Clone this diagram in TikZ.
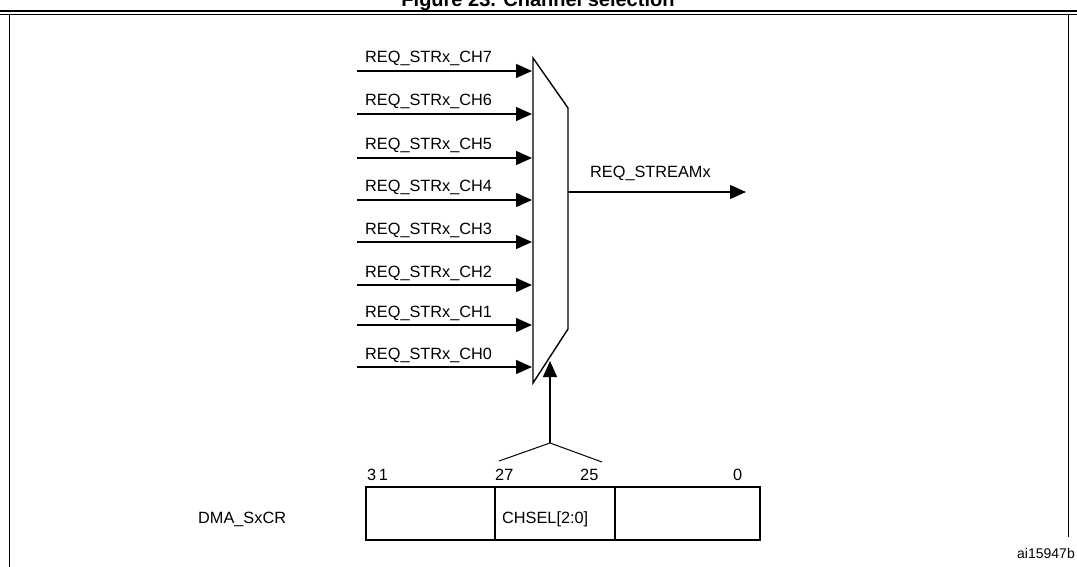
\documentclass[tikz,border=0pt]{standalone}
\usepackage{fontspec}
\usetikzlibrary{arrows.meta}
\setmainfont{Liberation Sans}
\begin{document}
\begin{tikzpicture}[x=1pt,y=-1pt,
  ln/.style={line width=1.4pt},
  arr/.style={line width=1.4pt,-{Triangle[length=16pt,width=14pt]}},
  lab/.style={font=\fontsize{16.3}{18}\selectfont,inner sep=0pt,anchor=base west}]
\useasboundingbox (0,0) rectangle (1077,567);
\begin{scope}
\clip (0,0) rectangle (1077,567);
\node[font=\bfseries\fontsize{20}{22}\selectfont,inner sep=0pt,anchor=base] (title) at (538,7) {Figure 23. Channel selection};
\end{scope}
\draw[line width=1.2pt] (0,11) -- (1077,11);
\draw[line width=0.8pt] (0,14) -- (1077,14);
\draw[line width=1pt] (9,14) -- (9,567);
\draw[line width=1pt] (1068,14) -- (1068,537);
% mux
\draw[ln] (533,58) -- (568,108) -- (568,329) -- (533,383) -- cycle;
\foreach \y/\n in {71/7,114/6,158/5,200/4,242/3,285/2,325/1,367/0}{
  \coordinate (in\n) at (357,\y);
  \coordinate (mi\n) at (532,\y);
  \draw[arr] (in\n) -- (mi\n);
  \node[lab] (l\n) at (365,\y-8) {REQ\_STRx\_CH\n};
}
\coordinate (mo) at (568,192);
\coordinate (out) at (746,192);
\draw[arr] (mo) -- (out);
\node[lab] (ls) at (590,178) {REQ\_STREAMx};
% select
\coordinate (bk) at (550,443);
\coordinate (sel) at (550,361);
\draw[arr] (bk) -- (sel);
\coordinate (b1) at (499,461);
\coordinate (b2) at (602,462);
\draw[line width=1pt] (b1) -- (bk) -- (b2);
% register
\draw[ln] (366,487) rectangle (760,540);
\draw[ln] (495,487) -- (495,540);
\draw[ln] (615,487) -- (615,540);
\node[lab] (n31) at (367,480) {3\,1};
\node[lab] (n27) at (495,480) {27};
\node[lab] (n25) at (580,480) {25};
\node[lab] (n0) at (733,480) {0};
\node[lab] (chsel) at (502,523) {CHSEL[2:0]};
\node[lab] (reg) at (198,523) {DMA\_SxCR};
\node[lab,anchor=base east,font=\fontsize{14}{16}\selectfont] (id) at (1075,558) {ai15947b};
\end{tikzpicture}
\end{document}
